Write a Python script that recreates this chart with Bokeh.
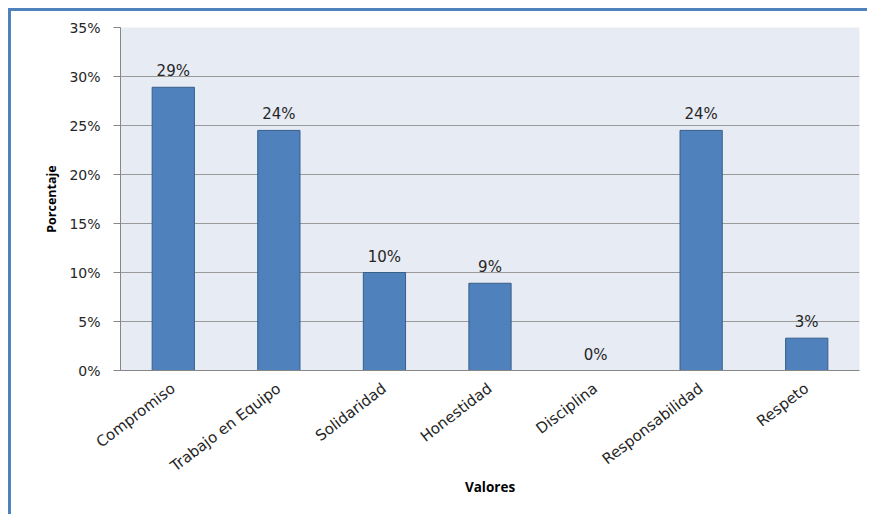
from bokeh.plotting import figure
from bokeh.models import ColumnDataSource, LabelSet, NumeralTickFormatter, FixedTicker
from bokeh.core.properties import value
from bokeh.embed import file_html
from bokeh.resources import INLINE

categories = ["Compromiso", "Trabajo en Equipo", "Solidaridad", "Honestidad",
              "Disciplina", "Responsabilidad", "Respeto"]
values = [0.289, 0.245, 0.100, 0.089, 0.0, 0.245, 0.033]
labels = ["29%", "24%", "10%", "9%", "0%", "24%", "3%"]
y_ticks = [0, 0.05, 0.10, 0.15, 0.20, 0.25, 0.30, 0.35]

src = ColumnDataSource(dict(cat=categories, val=values, lab=labels))

p = figure(x_range=categories, y_range=(0, 0.35), width=859, height=506,
           output_backend="svg", toolbar_location=None,
           min_border_left=109, min_border_right=11, min_border_top=16,
           min_border_bottom=147, background_fill_color="#E7EBF4",
           border_fill_color="white", outline_line_color=None,
           styles={"margin-left": "8px", "margin-top": "8px",
                   "border-left": "3px solid #4F81BD",
                   "border-top": "3px solid #4F81BD"})

p.vbar(x="cat", top="val", width=0.4, source=src, fill_color="#4F81BD",
       line_color="#385D8A", line_width=1)

p.add_layout(LabelSet(x="cat", y="val", text="lab", source=src, y_offset=11,
                      text_align="center", text_baseline="alphabetic",
                      text_font=value("DejaVu Sans"), text_font_size=value("15px"),
                      text_color="#262626"))

p.yaxis.ticker = FixedTicker(ticks=y_ticks)
p.yaxis.formatter = NumeralTickFormatter(format="0%")
p.yaxis.major_label_text_font = "DejaVu Sans"
p.yaxis.major_label_text_font_size = "14px"
p.yaxis.major_label_text_color = "#262626"
p.yaxis.major_label_standoff = 13
p.yaxis.major_tick_out = 7
p.yaxis.major_tick_in = 0
p.yaxis.minor_tick_line_color = None
p.yaxis.axis_line_color = "#868686"
p.yaxis.major_tick_line_color = "#868686"
p.yaxis.axis_label = "Porcentaje"
p.yaxis.axis_label_text_font = "Open Sans"
p.yaxis.axis_label_text_font_style = "bold"
p.yaxis.axis_label_text_font_size = "12.5px"
p.yaxis.axis_label_text_color = "black"
p.yaxis.axis_label_standoff = 6

p.xaxis.major_label_orientation = 0.655
p.xaxis.major_label_text_font = "DejaVu Sans"
p.xaxis.major_label_text_font_size = "15px"
p.xaxis.major_label_text_color = "#262626"
p.xaxis.major_label_standoff = 10
p.xaxis.major_tick_line_color = None
p.xaxis.axis_line_color = "#868686"
p.xaxis.axis_label = "Valores"
p.xaxis.axis_label_text_font = "Open Sans"
p.xaxis.axis_label_text_font_style = "bold"
p.xaxis.axis_label_text_font_size = "13.5px"
p.xaxis.axis_label_text_color = "black"
p.xaxis.axis_label_standoff = -7

p.xgrid.grid_line_color = None
p.ygrid.grid_line_color = "#9A9A9A"
p.ygrid.ticker = FixedTicker(ticks=y_ticks)

open("out.html", "w").write(file_html(p, INLINE))
